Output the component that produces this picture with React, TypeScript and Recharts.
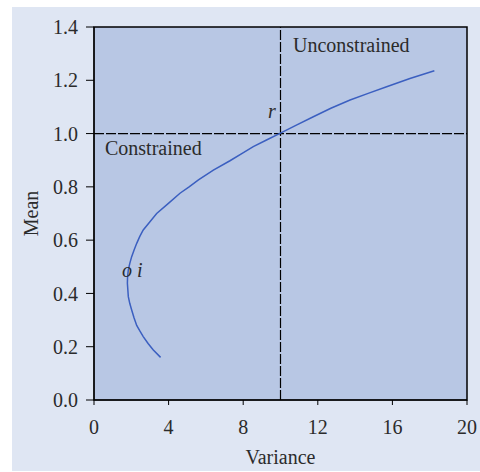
import {
  LineChart,
  Line,
  XAxis,
  YAxis,
  CartesianGrid,
  ReferenceLine,
  ReferenceArea,
  ReferenceDot,
  Label,
} from "recharts";

// frontier: variance (x) vs mean (y) in curve order
const variance = [3.57, 3.18, 2.9, 2.64, 2.45, 2.29, 2.15, 2.02, 1.92, 1.84, 1.79, 1.8, 1.84, 1.92, 2.02, 2.15, 2.29, 2.45, 2.64, 3.0, 3.36, 3.99, 4.61, 5.1, 5.6, 6.4, 7.29, 7.9, 8.54, 9.25, 9.97, 10.85, 11.76, 12.7, 13.73, 14.7, 15.69, 16.94, 18.25];
const mean = [0.16, 0.188, 0.212, 0.238, 0.26, 0.28, 0.308, 0.338, 0.362, 0.388, 0.438, 0.463, 0.488, 0.513, 0.538, 0.563, 0.588, 0.613, 0.638, 0.669, 0.7, 0.738, 0.776, 0.8, 0.826, 0.863, 0.898, 0.924, 0.951, 0.976, 1.001, 1.032, 1.063, 1.095, 1.126, 1.151, 1.176, 1.207, 1.236];

const xTicks = [0, 4, 8, 12, 16, 20];
const yTicks = [0, 0.2, 0.4, 0.6, 0.8, 1.0, 1.2, 1.4];

const refVariance = 10;
const refMean = 1.0;

const notes = [
  { text: "Unconstrained", x: 10.67, y: 1.306, italic: false },
  { text: "Constrained", x: 0.59, y: 0.92, italic: false },
  { text: "r", x: 9.33, y: 1.059, italic: true },
  { text: "o i", x: 1.5, y: 0.462, italic: true },
];

const data = variance.map((v, i) => ({ variance: v, mean: mean[i] }));

const FONT = "'Liberation Serif', 'Times New Roman', serif";
const TEXT = "#2b2b2b";

const noteLabel = (text: string, italic: boolean) => (props: any) => {
  const vb = props.viewBox || {};
  return (
    <text
      x={vb.x}
      y={vb.y}
      fontFamily={FONT}
      fontSize={20}
      fontStyle={italic ? "italic" : "normal"}
      fill={TEXT}
    >
      {text}
    </text>
  );
};

export default function App() {
  return (
    <div style={{ position: "absolute", left: 0, top: 0, width: 480, height: 472, background: "#fff" }}>
      <div style={{ position: "absolute", left: 12, top: 7, width: 468, height: 464, background: "#dfe6f3" }} />
      <div style={{ position: "absolute", left: 0, top: 0 }}>
        <LineChart
          width={480}
          height={472}
          data={data}
          margin={{ top: 27, right: 13, left: 34, bottom: 42 }}
        >
          <CartesianGrid fill="#b8c7e4" horizontal={false} vertical={false} />
          <XAxis
            dataKey="variance"
            type="number"
            domain={[0, 20]}
            ticks={xTicks}
            height={30}
            tickSize={5}
            tickMargin={15}
            stroke="#000"
            tick={{ fill: TEXT, fontFamily: FONT, fontSize: 20 }}
          >
            <Label value="Variance" position="center" dy={42} fill={TEXT} fontFamily={FONT} fontSize={20} />
          </XAxis>
          <YAxis
            dataKey="mean"
            type="number"
            domain={[0, 1.4]}
            ticks={yTicks}
            width={60}
            tickSize={8}
            tickMargin={8}
            stroke="#000"
            tickFormatter={(v: number) => v.toFixed(1)}
            tick={{ fill: TEXT, fontFamily: FONT, fontSize: 20 }}
          >
            <Label value="Mean" position="center" angle={-90} dx={-33} fill={TEXT} fontFamily={FONT} fontSize={20} />
          </YAxis>
          <ReferenceArea x1={0} x2={20} y1={0} y2={1.4} fillOpacity={0} stroke="#000" strokeWidth={1.5} />
          <ReferenceLine x={refVariance} stroke="#000" strokeWidth={1.2} strokeDasharray="10 2" />
          <ReferenceLine y={refMean} stroke="#000" strokeWidth={1.2} strokeDasharray="10 2" />
          <Line
            type="linear"
            dataKey="mean"
            stroke="#3b5fc0"
            strokeWidth={1.5}
            dot={false}
            isAnimationActive={false}
          />
          {notes.map((n) => (
            <ReferenceDot
              key={n.text}
              x={n.x}
              y={n.y}
              r={0}
              stroke="none"
              fill="none"
              label={noteLabel(n.text, n.italic)}
            />
          ))}
        </LineChart>
      </div>
    </div>
  );
}
